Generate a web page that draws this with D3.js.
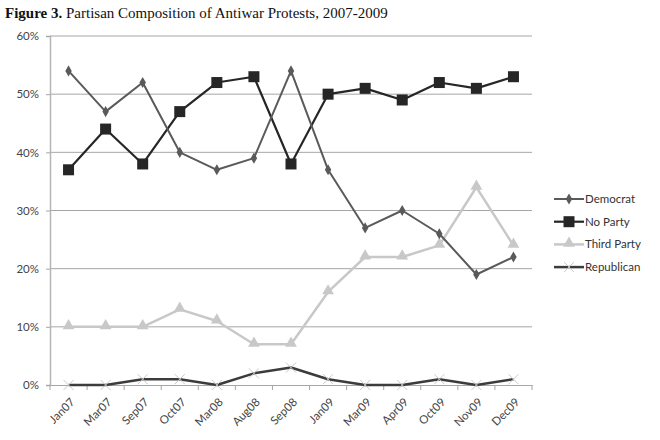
<!DOCTYPE html>
<html lang="en">
<head>
<meta charset="utf-8">
<title>Partisan Composition of Antiwar Protests</title>
<script src="https://cdnjs.cloudflare.com/ajax/libs/d3/7.8.5/d3.min.js"></script>
<style>
  body { margin: 0; background: #fff; }
  .tick text { font-family: Lato, "Open Sans", sans-serif; font-size: 11.5px; fill: #444; }
</style>
</head>
<body>
<svg id="chart" width="660" height="440"></svg>
<script>
const months = ["Jan07","Mar07","Sep07","Oct07","Mar08","Aug08","Sep08","Jan09","Mar09","Apr09","Oct09","Nov09","Dec09"];
const democrat   = [54, 47, 52, 40, 37, 39, 54, 37, 27, 30, 26, 19, 22];
const noParty    = [37, 44, 38, 47, 52, 53, 38, 50, 51, 49, 52, 51, 53];
const thirdParty = [10, 10, 10, 13, 11, 7, 7, 16, 22, 22, 24, 34, 24];
const republican = [0, 0, 1, 1, 0, 2, 3, 1, 0, 0, 1, 0, 1];
const yTicks = [0, 10, 20, 30, 40, 50, 60];

const series = [
  { name: "Democrat", values: democrat, color: "#5a5a5a", width: 2, marker: "diamond" },
  { name: "No Party", values: noParty, color: "#262626", width: 2.2, marker: "square" },
  { name: "Third Party", values: thirdParty, color: "#c8c8c8", width: 2.5, marker: "triangle" },
  { name: "Republican", values: republican, color: "#3c3c3c", width: 2.5, marker: "cross" }
];

const svg = d3.select("#chart");
const plotLeft = 50, plotRight = 532, plotTop = 36, plotBottom = 385;

// title
const title = svg.append("text")
  .attr("x", 5).attr("y", 18)
  .attr("font-family", "'Liberation Serif', 'DejaVu Serif', serif")
  .attr("font-size", 15)
  .attr("fill", "#111");
title.append("tspan").attr("font-weight", "bold").text("Figure 3.");
title.append("tspan").text(" Partisan Composition of Antiwar Protests, 2007-2009");

const x = d3.scaleBand().domain(months).range([plotLeft, plotRight]);
const y = d3.scaleLinear().domain([0, 60]).range([plotBottom, plotTop]);

// gridlines
svg.append("g").selectAll("line")
  .data(yTicks.filter(d => d > 0))
  .enter().append("line")
  .attr("x1", plotLeft).attr("x2", plotRight)
  .attr("y1", d => y(d)).attr("y2", d => y(d))
  .attr("stroke", "#a6a6a6").attr("stroke-width", 1);

// y axis
const yAxis = svg.append("g")
  .attr("transform", `translate(${plotLeft},0)`)
  .call(d3.axisLeft(y).tickValues(yTicks).tickFormat(d => d + "%").tickSize(4).tickPadding(7));
yAxis.select(".domain").attr("stroke", "#b5b5b5").attr("stroke-width", 1.5);
yAxis.selectAll(".tick line").attr("stroke", "#a6a6a6");

// x axis with ticks at band edges
const xAxis = svg.append("g")
  .attr("transform", `translate(0,${plotBottom})`)
  .call(d3.axisBottom(x).tickSize(0));
xAxis.select(".domain").attr("stroke", "#a6a6a6").attr("stroke-width", 1);
xAxis.selectAll(".tick text")
  .attr("x", 0).attr("y", 0).attr("dy", "0.35em")
  .attr("text-anchor", "end")
  .attr("transform", "translate(4,15) rotate(-45)");
svg.append("g").selectAll("line")
  .data(d3.range(months.length + 1))
  .enter().append("line")
  .attr("x1", i => plotLeft + i * x.bandwidth()).attr("x2", i => plotLeft + i * x.bandwidth())
  .attr("y1", plotBottom).attr("y2", plotBottom + 5)
  .attr("stroke", "#a6a6a6");

const cx = m => x(m) + x.bandwidth() / 2;

function drawMarker(g, type, px, py, color) {
  if (type === "diamond") {
    g.append("path").attr("d", d3.symbol(d3.symbolDiamond, 36)()).attr("transform", `translate(${px},${py})`).attr("fill", color);
  } else if (type === "square") {
    g.append("rect").attr("x", px - 5.5).attr("y", py - 5.5).attr("width", 11).attr("height", 11).attr("fill", color);
  } else if (type === "triangle") {
    g.append("path").attr("d", d3.symbol(d3.symbolTriangle, 60)()).attr("transform", `translate(${px},${py - 1})`).attr("fill", color);
  } else {
    g.append("path").attr("d", `M${px - 5},${py - 5}L${px + 5},${py + 5}M${px - 5},${py + 5}L${px + 5},${py - 5}`)
      .attr("stroke", "#c8c8c8").attr("stroke-width", 1);
  }
}

const line = d3.line().x(d => cx(d.m)).y(d => y(d.v));

series.slice().reverse().forEach(s => {
  const pts = months.map((m, i) => ({ m, v: s.values[i] }));
  const g = svg.append("g");
  g.append("path").datum(pts).attr("d", line)
    .attr("fill", "none").attr("stroke", s.color).attr("stroke-width", s.width)
    .attr("stroke-linejoin", "round");
  pts.forEach(p => drawMarker(g, s.marker, cx(p.m), y(p.v), s.color));
});

// legend
const legend = svg.append("g");
series.forEach((s, i) => {
  const ly = 199 + i * 22.7;
  legend.append("line").attr("x1", 554).attr("x2", 584).attr("y1", ly).attr("y2", ly)
    .attr("stroke", s.color).attr("stroke-width", s.width);
  drawMarker(legend, s.marker, 569, ly, s.color);
  legend.append("text").attr("x", 585).attr("y", ly + 4)
    .attr("font-family", "Lato, 'Open Sans', sans-serif").attr("font-size", 11.5).attr("fill", "#333")
    .text(s.name);
});
</script>
</body>
</html>
